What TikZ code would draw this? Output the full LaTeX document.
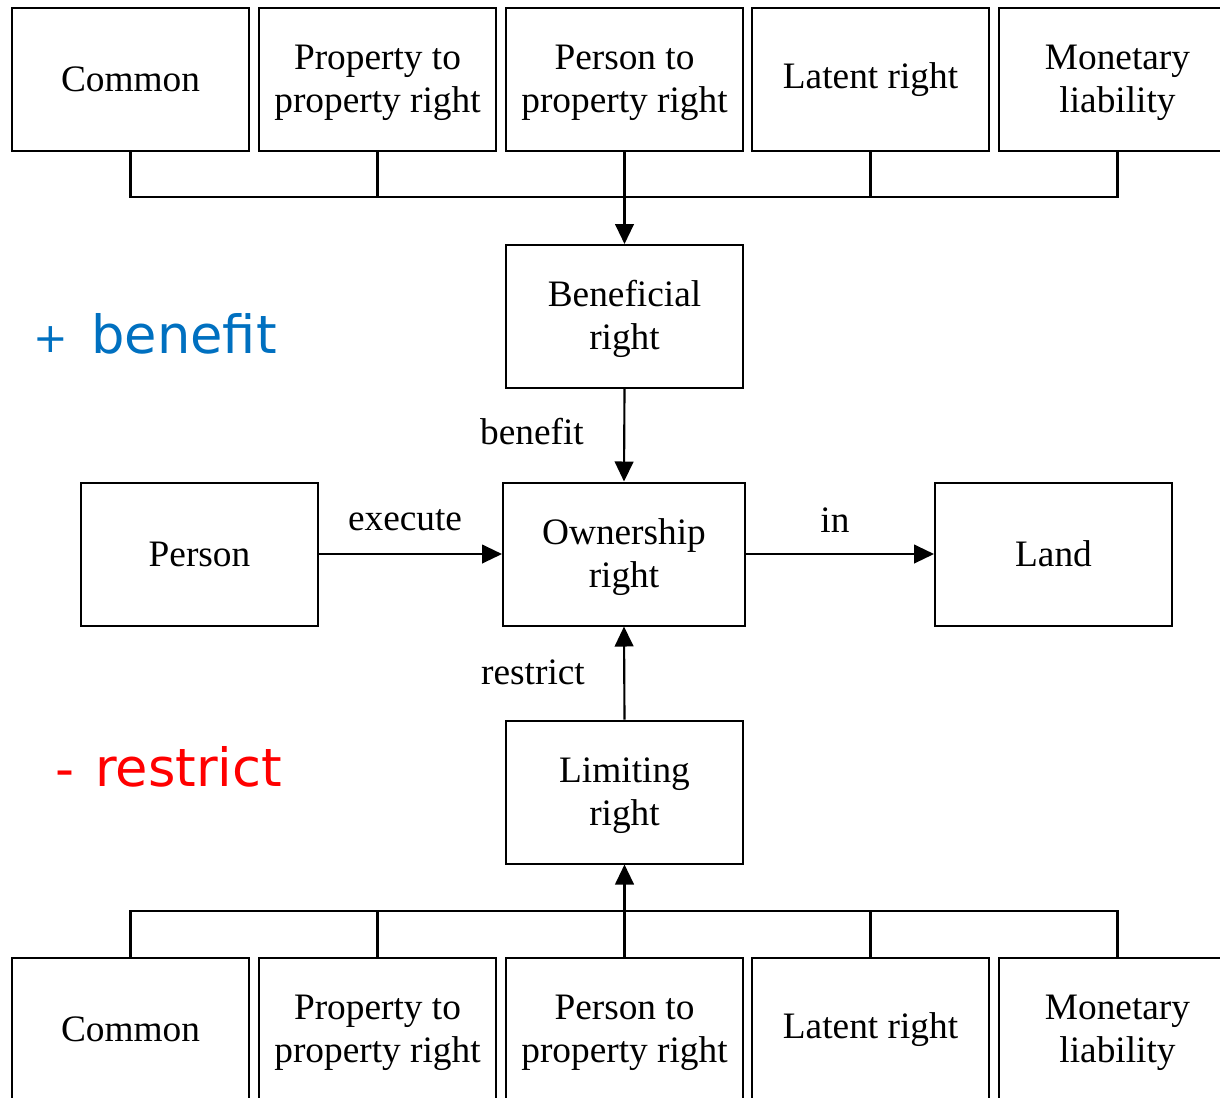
\documentclass[tikz,border=0pt]{standalone}
\usepackage{fontspec}
\setmainfont{Liberation Serif}
\newfontfamily\labelsans{DejaVu Sans}
\usetikzlibrary{arrows.meta}
\definecolor{plusblue}{RGB}{0,112,192}
\definecolor{minusred}{RGB}{255,0,0}
% extra head room on the first line of two-line labels
\newcommand{\firstline}{\rule{0pt}{23.5pt}}
\begin{document}
\begin{tikzpicture}[x=0.75pt,y=-0.75pt,
  box/.style={draw,line width=1.5pt,rectangle,inner sep=0pt,
    minimum width=177.75pt,minimum height=107.25pt,align=center,
    font=\fontsize{28}{32.25}\selectfont},
  wbox/.style={box,minimum width=181.5pt},
  lbl/.style={inner sep=0pt,font=\fontsize{28}{32.25}\selectfont},
  bus/.style={line width=1.6pt},
  arr/.style={line width=1.6pt,-{Triangle[length=15pt,width=14pt]}},
  sign/.style={inner sep=0pt,font=\labelsans\fontsize{39.5}{42}\selectfont}
]
\useasboundingbox (0,0) rectangle (1220,1097);

% top row of right types
\node[box] (t1) at (130.5,79.5) {Common};
\node[box] (t2) at (377.5,79.5) {\firstline Property to\\property right};
\node[box] (t3) at (624.5,79.5) {\firstline Person to\\property right};
\node[box] (t4) at (870.5,79.5) {Latent right};
\node[box] (t5) at (1117.5,79.5) {\firstline Monetary\\liability};

% central chain
\node[box] (ben) at (624.5,316.5) {\firstline Beneficial\\right};
\node[wbox] (own) at (624,554) {\firstline Ownership\\right};
\node[box] (per) at (199.5,554) {Person};
\node[box] (land) at (1053.5,554) {Land};
\node[box] (lim) at (624.5,792) {\firstline Limiting\\right};

% bottom row of right types
\node[box] (b1) at (130.5,1029.5) {Common};
\node[box] (b2) at (377.5,1029.5) {\firstline Property to\\property right};
\node[box] (b3) at (624.5,1029.5) {\firstline Person to\\property right};
\node[box] (b4) at (870.5,1029.5) {Latent right};
\node[box] (b5) at (1117.5,1029.5) {\firstline Monetary\\liability};

% collecting buses
\coordinate (topbus) at (624,197);
\coordinate (botbus) at (624,911);
\draw[bus] (t1.south) |- (t5.south |- topbus) -- (t5.south);
\draw[bus] (t2.south) -- (t2.south |- topbus);
\draw[bus] (t4.south) -- (t4.south |- topbus);
\draw[arr] (t3.south) -- (ben.north);

\draw[bus] (b1.north) |- (b5.north |- botbus) -- (b5.north);
\draw[bus] (b2.north) -- (b2.north |- botbus);
\draw[bus] (b4.north) -- (b4.north |- botbus);
\draw[arr] (b3.north) -- (lim.south);

% relations around the ownership right
\draw[arr] (ben.south) -- (own.north);
\draw[arr] (lim.north) -- (own.south);
\draw[arr] (per.east) -- (own.west);
\draw[arr] (own.east) -- (land.west);

\node[lbl] (lbenefit) at (532,432) {benefit};
\node[lbl] (lrestrict) at (533,672) {restrict};
\node[lbl] (lexecute) at (405,520) {execute};
\node[lbl] (lin) at (835,520) {in};

% effect signs
\node[sign,text=plusblue,font=\labelsans\fontsize{31}{33}\selectfont] (plus) at (51,340) {+};
\node[sign,text=plusblue,anchor=base west] (plusword) at (91,353) {benefit};
\node[sign,text=minusred] (minus) at (65,779) {-};
\node[sign,text=minusred,anchor=base west] (minusword) at (95,786) {restrict};
\end{tikzpicture}
\end{document}
